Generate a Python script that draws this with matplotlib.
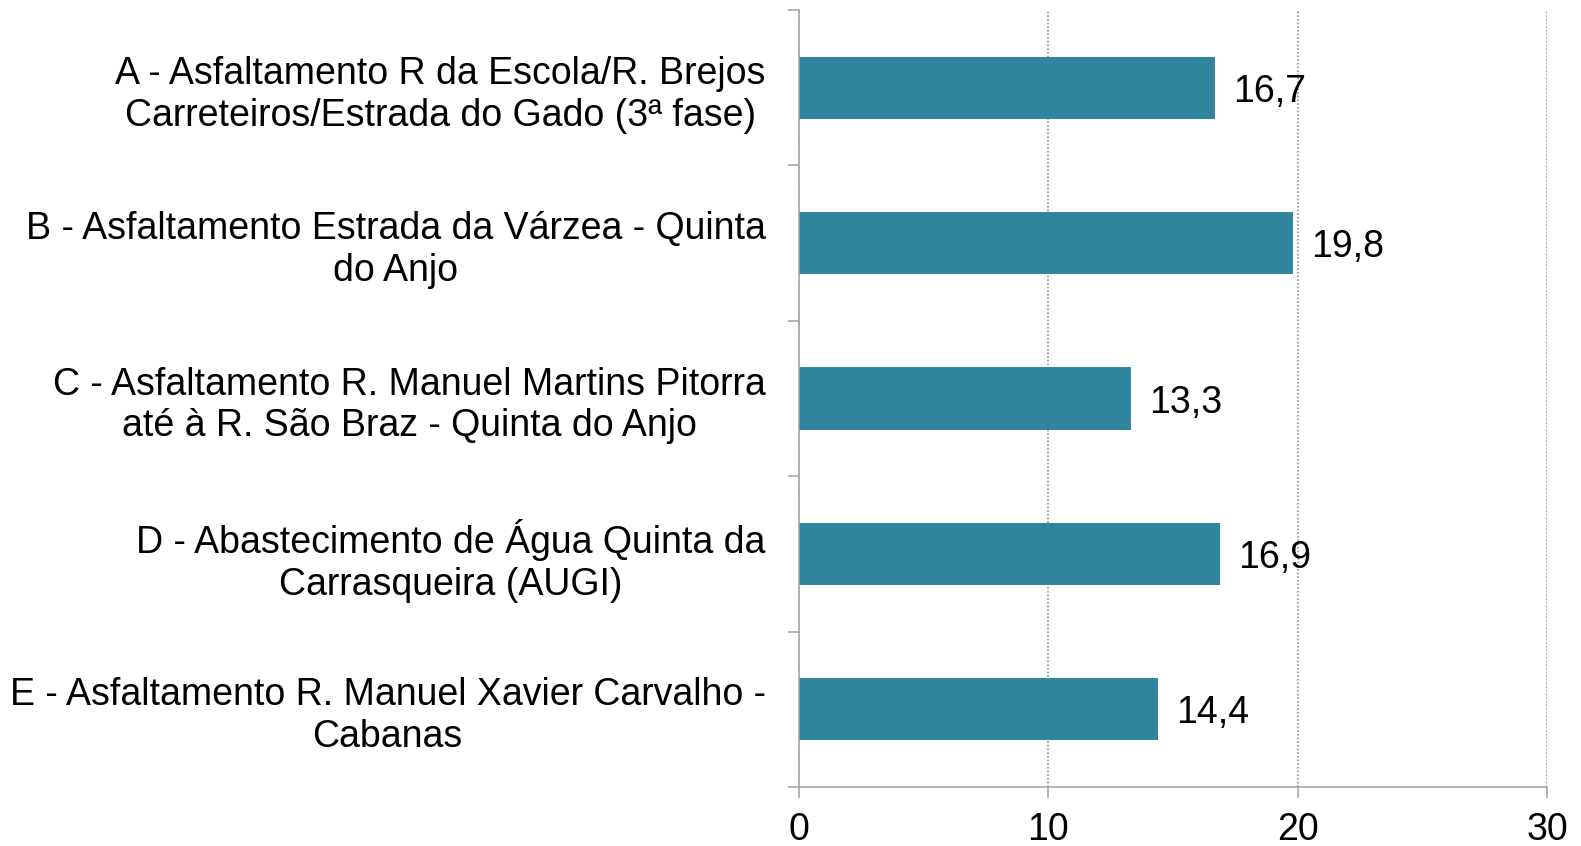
import matplotlib.pyplot as plt
from matplotlib.ticker import MultipleLocator, FixedLocator

plt.rcParams["font.family"] = ["Liberation Sans", "DejaVu Sans"]

# ── Data ──────────────────────────────────────────────────────────────
categorias = [
    "A - Asfaltamento R da Escola/R. Brejos\nCarreteiros/Estrada do Gado (3ª fase)",
    "B - Asfaltamento Estrada da Várzea - Quinta\ndo Anjo",
    "C - Asfaltamento R. Manuel Martins Pitorra\naté à R. São Braz - Quinta do Anjo",
    "D - Abastecimento de Água Quinta da\nCarrasqueira (AUGI)",
    "E - Asfaltamento R. Manuel Xavier Carvalho -\nCabanas",
]
valores = [16.7, 19.8, 13.3, 16.9, 14.4]
x_ticks = [0, 10, 20, 30]

BAR = "#31859C"
AXIS = "#A0A0A0"
FS = 27

fig = plt.figure(figsize=(15.81, 8.46), dpi=100)
ax = fig.add_axes([0.5054, 0.0697, 0.4731, 0.9185])

pos = list(range(len(categorias)))
bars = ax.barh(pos, valores, height=0.4, color=BAR, zorder=3)
txts = ax.bar_label(bars, labels=[f"{v:.1f}".replace(".", ",") for v in valores],
                    padding=13, fontsize=FS, color="black")
for t in txts:
    t.set_y(-3)  # nudge labels slightly down, as in the original

ax.set_xlim(0, 30)
ax.set_ylim(len(categorias) - 0.5, -0.5)
ax.xaxis.set_major_locator(FixedLocator(x_ticks))
ax.set_xticklabels([str(t) for t in x_ticks])

ax.set_yticks(pos)
ax.set_yticklabels(categorias, fontsize=FS, linespacing=1.21)
for lbl in ax.get_yticklabels():
    lbl.set_multialignment("center")
ax.yaxis.set_minor_locator(MultipleLocator(1, offset=0.5))
ax.tick_params(axis="y", which="major", length=0, pad=24)
ax.tick_params(axis="y", which="minor", length=8, width=1.1, color=AXIS, direction="out")
ax.tick_params(axis="x", which="major", length=8, width=1.1, color=AXIS,
               direction="out", labelsize=FS, pad=10)

ax.grid(axis="x", linestyle=(0, (1.2, 1.2)), color="#909090", linewidth=1.1, zorder=0)
ax.set_axisbelow(True)

for s in ["top", "right"]:
    ax.spines[s].set_visible(False)
for s in ["left", "bottom"]:
    ax.spines[s].set_color(AXIS)
    ax.spines[s].set_linewidth(1.1)
    ax.spines[s].set_zorder(4)

fig.savefig("out.png", dpi=100)
